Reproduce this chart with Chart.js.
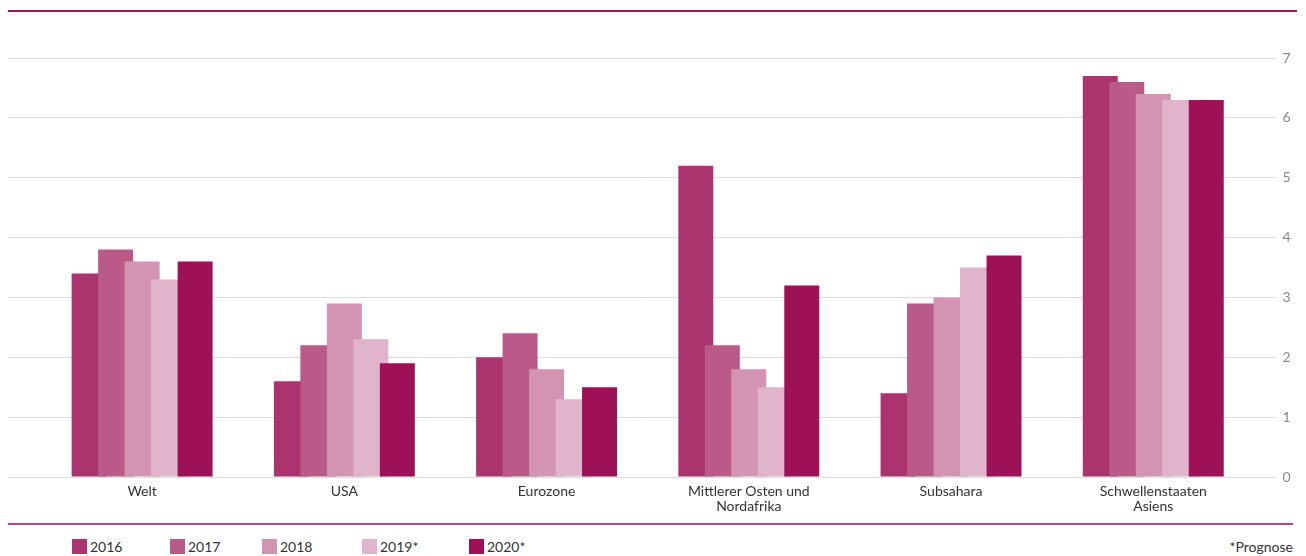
<!DOCTYPE html>
<html>
<head>
<meta charset="utf-8">
<script src="https://cdn.jsdelivr.net/npm/chart.js@4"></script>
<style>
  html, body { margin: 0; padding: 0; background: #fff; }
  body { width: 1306px; height: 556px; position: relative; overflow: hidden; font-family: Lato, "Noto Sans", sans-serif; }
  #wrap { position: absolute; left: 0; top: 0; width: 1306px; height: 524.4px; }
  .rule { position: absolute; left: 8px; height: 2px; }
  #topRule { top: 10px; width: 1289px; background: #a01a5b; }
  #botRule { top: 523px; width: 1285px; background: #c0427f; }
  #legend { position: absolute; left: 0; top: 538px; height: 18px; width: 1306px; }
  .item { position: absolute; top: 0; display: flex; align-items: flex-start; font-size: 14px; color: #333; line-height: 18px; }
  .box { width: 15px; height: 15px; margin-top: 1px; margin-right: 3px; }
  #note { position: absolute; right: 13px; top: 538px; font-size: 14px; line-height: 18px; color: #333; }
</style>
</head>
<body>
<div id="wrap"><canvas id="c"></canvas></div>
<div class="rule" id="topRule"></div>
<div class="rule" id="botRule"></div>
<div id="legend"></div>
<div id="note">*Prognose</div>
<script>
const categories = ["Welt", "USA", "Eurozone", ["Mittlerer Osten und", "Nordafrika"], "Subsahara", ["Schwellenstaaten", "Asiens"]];
const seriesNames = ["2016", "2017", "2018", "2019*", "2020*"];
const v2016 = [3.4, 1.6, 2.0, 5.2, 1.4, 6.7];
const v2017 = [3.8, 2.2, 2.4, 2.2, 2.9, 6.6];
const v2018 = [3.6, 2.9, 1.8, 1.8, 3.0, 6.4];
const v2019 = [3.3, 2.3, 1.3, 1.5, 3.5, 6.3];
const v2020 = [3.6, 1.9, 1.5, 3.2, 3.7, 6.3];
const yTicks = [0, 1, 2, 3, 4, 5, 6, 7];
const colors = ["#ab346e", "#b95a88", "#d393b2", "#e0b5cc", "#9e1157"];
const legendLeft = [72, 170, 262, 362, 469];

const values = [v2016, v2017, v2018, v2019, v2020];
const datasets = values.map((d, i) => ({
  label: seriesNames[i],
  data: d,
  backgroundColor: colors[i],
  borderWidth: 0,
  categoryPercentage: 0.655,
  barPercentage: 1.32
}));

const lg = document.getElementById('legend');
seriesNames.forEach((n, i) => {
  const it = document.createElement('div');
  it.className = 'item';
  it.style.left = legendLeft[i] + 'px';
  it.innerHTML = '<span class="box" style="background:' + colors[i] + '"></span><span>' + n + '</span>';
  lg.appendChild(it);
});

// paint later series on top of earlier ones (overlapping bars)
const drawOrder = {
  id: 'drawOrder',
  beforeDatasetDraw(chart) { if (!chart.$manualDraw) return false; },
  afterDatasetsDraw(chart) {
    chart.$manualDraw = true;
    chart.getSortedVisibleDatasetMetas().forEach(m => m.controller.draw());
    chart.$manualDraw = false;
  }
};

const gridColor = 'rgba(215,215,215,0.85)';
new Chart(document.getElementById('c'), {
  type: 'bar',
  data: { labels: categories, datasets },
  plugins: [drawOrder],
  options: {
    responsive: true,
    maintainAspectRatio: false,
    animation: false,
    layout: { padding: { top: 58, left: 8, right: 9.5, bottom: 4 } },
    plugins: { legend: { display: false }, tooltip: { enabled: false } },
    scales: {
      x: {
        grid: { display: false, drawTicks: false },
        border: { display: false },
        ticks: { color: '#333', font: { family: 'Lato', size: 14, lineHeight: 1.05 }, padding: 7, maxRotation: 0, autoSkip: false }
      },
      y: {
        position: 'right',
        min: 0, max: 7,
        z: 1,
        afterBuildTicks: s => { s.ticks = yTicks.map(v => ({ value: v })); },
        grid: { color: gridColor, lineWidth: 1, drawTicks: true, tickLength: 22 },
        border: { display: false },
        ticks: { color: '#888', font: { family: 'Lato', size: 14 }, padding: 6 }
      },
      yl: {
        position: 'left',
        min: 0, max: 7,
        z: 1,
        afterBuildTicks: s => { s.ticks = yTicks.map(v => ({ value: v })); },
        grid: { color: gridColor, lineWidth: 1, drawOnChartArea: false, drawTicks: true, tickLength: 33 },
        border: { display: false },
        ticks: { display: false }
      }
    }
  }
});
</script>
</body>
</html>
